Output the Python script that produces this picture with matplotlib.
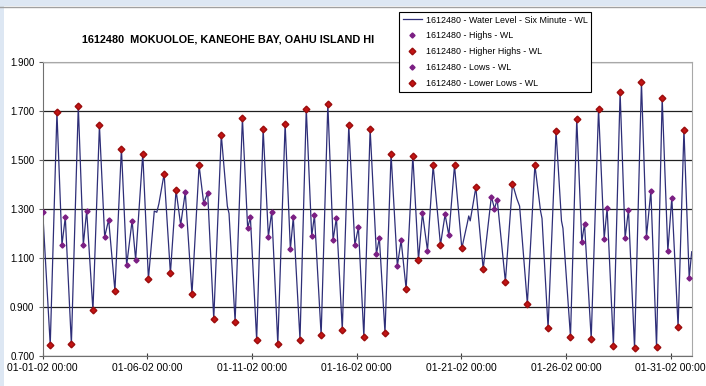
import numpy as np
import pandas as pd
import matplotlib
matplotlib.use("Agg")
import matplotlib.pyplot as plt
import matplotlib.dates as mdates
from matplotlib.patches import Rectangle

plt.rcParams['font.family'] = ['Liberation Sans', 'DejaVu Sans']

START = pd.Timestamp("2002-01-01 00:00")

# tide extremes, time in days after 01-01-02 00:00, level in metres
higher_high_day = [0.68, 1.70, 2.71, 3.76, 4.78, 5.80, 6.37, 7.47, 8.53, 9.54,
                   10.53, 11.58, 12.59, 13.62, 14.62, 15.64, 16.64, 17.68, 18.65, 19.67,
                   20.69, 22.44, 23.51, 24.52, 25.51, 26.55, 27.58, 28.60, 29.59, 30.63]
higher_high_wl = [1.693, 1.719, 1.639, 1.545, 1.524, 1.442, 1.375, 1.476, 1.601, 1.669,
                  1.625, 1.646, 1.708, 1.727, 1.639, 1.625, 1.522, 1.515, 1.476, 1.476,
                  1.387, 1.402, 1.478, 1.616, 1.666, 1.707, 1.775, 1.816, 1.752, 1.622]

high_day = [0.00, 1.08, 2.10, 3.15, 4.27, 6.81, 7.88, 9.92, 10.94, 11.97,
            12.98, 14.03, 15.08, 16.08, 17.12, 18.14, 19.22, 21.43, 21.71, 25.88,
            26.96, 27.98, 29.05, 30.05]
high_wl = [1.288, 1.265, 1.292, 1.255, 1.251, 1.367, 1.364, 1.265, 1.288, 1.265,
           1.273, 1.263, 1.224, 1.182, 1.171, 1.281, 1.276, 1.349, 1.337, 1.239,
           1.303, 1.296, 1.373, 1.345]

low_day = [0.92, 1.94, 2.96, 4.01, 4.44, 6.59, 7.69, 9.79, 10.78, 11.83,
           12.85, 13.87, 14.91, 15.94, 16.94, 18.38, 19.40, 21.58, 25.75, 26.82,
           27.82, 28.84, 29.86, 30.88]
low_wl = [1.152, 1.152, 1.185, 1.069, 1.091, 1.233, 1.322, 1.220, 1.186, 1.134,
          1.187, 1.171, 1.151, 1.114, 1.066, 1.129, 1.191, 1.300, 1.164, 1.178,
          1.180, 1.185, 1.126, 1.016]

lower_low_day = [0.36, 1.37, 2.40, 3.45, 5.05, 6.10, 7.13, 8.17, 9.19, 10.22,
                 11.23, 12.29, 13.30, 14.31, 15.34, 16.35, 17.36, 17.95, 19.00, 20.02,
                 21.04, 22.10, 23.15, 24.14, 25.21, 26.20, 27.26, 28.27, 29.32, 30.35]
lower_low_wl = [0.744, 0.747, 0.885, 0.965, 1.013, 1.036, 0.951, 0.850, 0.839, 0.764,
                0.747, 0.765, 0.783, 0.806, 0.778, 0.793, 0.972, 1.091, 1.152, 1.138,
                1.054, 1.002, 0.912, 0.812, 0.777, 0.769, 0.740, 0.730, 0.735, 0.817]

# extra six-minute readings between extremes (shoulders and the last reading)
other_day = [5.33, 5.45, 5.55, 8.82, 8.90, 20.28, 20.35, 20.42, 20.52,
             22.65, 22.78, 23.78, 23.85, 24.78, 24.85, 31.00]
other_wl = [1.290, 1.285, 1.320, 1.310, 1.280, 1.240, 1.270, 1.250, 1.300,
            1.340, 1.310, 1.290, 1.260, 1.250, 1.220, 1.124]

tick_dates = ["2002-01-01", "2002-01-06", "2002-01-11", "2002-01-16",
              "2002-01-21", "2002-01-26", "2002-01-31"]


def to_time(days):
    return START + pd.to_timedelta(np.asarray(days), unit="D")


wl = pd.DataFrame({
    "day": higher_high_day + high_day + low_day + lower_low_day + other_day,
    "wl": higher_high_wl + high_wl + low_wl + lower_low_wl + other_wl,
}).sort_values("day")

fig = plt.figure(figsize=(7.06, 3.86), dpi=100)
W, H = 706, 386

# window chrome around the chart
fig.patches.append(Rectangle((0, 1 - 6 / H), 1, 6 / H, transform=fig.transFigure,
                             facecolor="#dde7f3", edgecolor="none", zorder=0))
fig.patches.append(Rectangle((0, 0), 4 / W, 1, transform=fig.transFigure,
                             facecolor="#dde7f3", edgecolor="none", zorder=0))
fig.lines.append(plt.Line2D([0, 1], [1 - 6.5 / H, 1 - 6.5 / H], transform=fig.transFigure,
                            color="#a0a0a0", lw=1))

ax = fig.add_axes([42.7 / W, 1 - 355.7 / H, (691.7 - 42.7) / W, (355.7 - 61.5) / H])

ax.plot(to_time(wl["day"]), wl["wl"], color="#2e2e78", lw=0.9, zorder=2,
        label="1612480 - Water Level - Six Minute - WL")
ax.plot(to_time(high_day), high_wl, ls="none", marker="D", ms=2.6,
        mfc="#7b1f83", mec="#7b1f83", zorder=3, label="1612480 - Highs - WL")
ax.plot(to_time(higher_high_day), higher_high_wl, ls="none", marker="D", ms=3.4,
        mfc="#c41414", mec="#9a0c0c", zorder=3, label="1612480 - Higher Highs - WL")
ax.plot(to_time(low_day), low_wl, ls="none", marker="D", ms=2.6,
        mfc="#7b1f83", mec="#7b1f83", zorder=3, label="1612480 - Lows - WL")
ax.plot(to_time(lower_low_day), lower_low_wl, ls="none", marker="D", ms=3.4,
        mfc="#c41414", mec="#9a0c0c", zorder=3, label="1612480 - Lower Lows - WL")

ax.set_xlim(START, pd.Timestamp("2002-02-01 00:00"))
ax.set_ylim(0.7, 1.9)
ax.set_yticks(np.arange(0.7, 1.91, 0.2))
ax.yaxis.set_major_formatter(plt.FormatStrFormatter("%.3f"))
ax.set_xticks(pd.to_datetime(tick_dates))
ax.xaxis.set_major_formatter(mdates.DateFormatter("%m-%d-%y %H:%M"))
ax.grid(axis="y", color="#202020", lw=0.9)
ax.set_axisbelow(True)

ax.tick_params(axis="y", direction="out", length=3, labelsize=7, color="#606060", pad=3)
ax.tick_params(axis="x", direction="inout", length=5, labelsize=7.5, color="#404040", pad=3)
for s in ["top", "right"]:
    ax.spines[s].set_color("#a8a8a8")
for s in ["left", "bottom"]:
    ax.spines[s].set_color("#707070")

fig.text(82 / W, 1 - 40 / H, "1612480  MOKUOLOE, KANEOHE BAY, OAHU ISLAND HI",
         fontsize=7.8, fontweight="bold", ha="left", va="center")

leg = fig.legend(loc="upper left", bbox_to_anchor=(399 / W, 1 - 12 / H), fontsize=6.4,
                 frameon=True, fancybox=False, framealpha=1, edgecolor="black",
                 borderaxespad=0, handlelength=2.2, handletextpad=0.4,
                 labelspacing=0.78, borderpad=0.4)
leg.get_frame().set_linewidth(0.8)

fig.savefig("out.png", dpi=100)
